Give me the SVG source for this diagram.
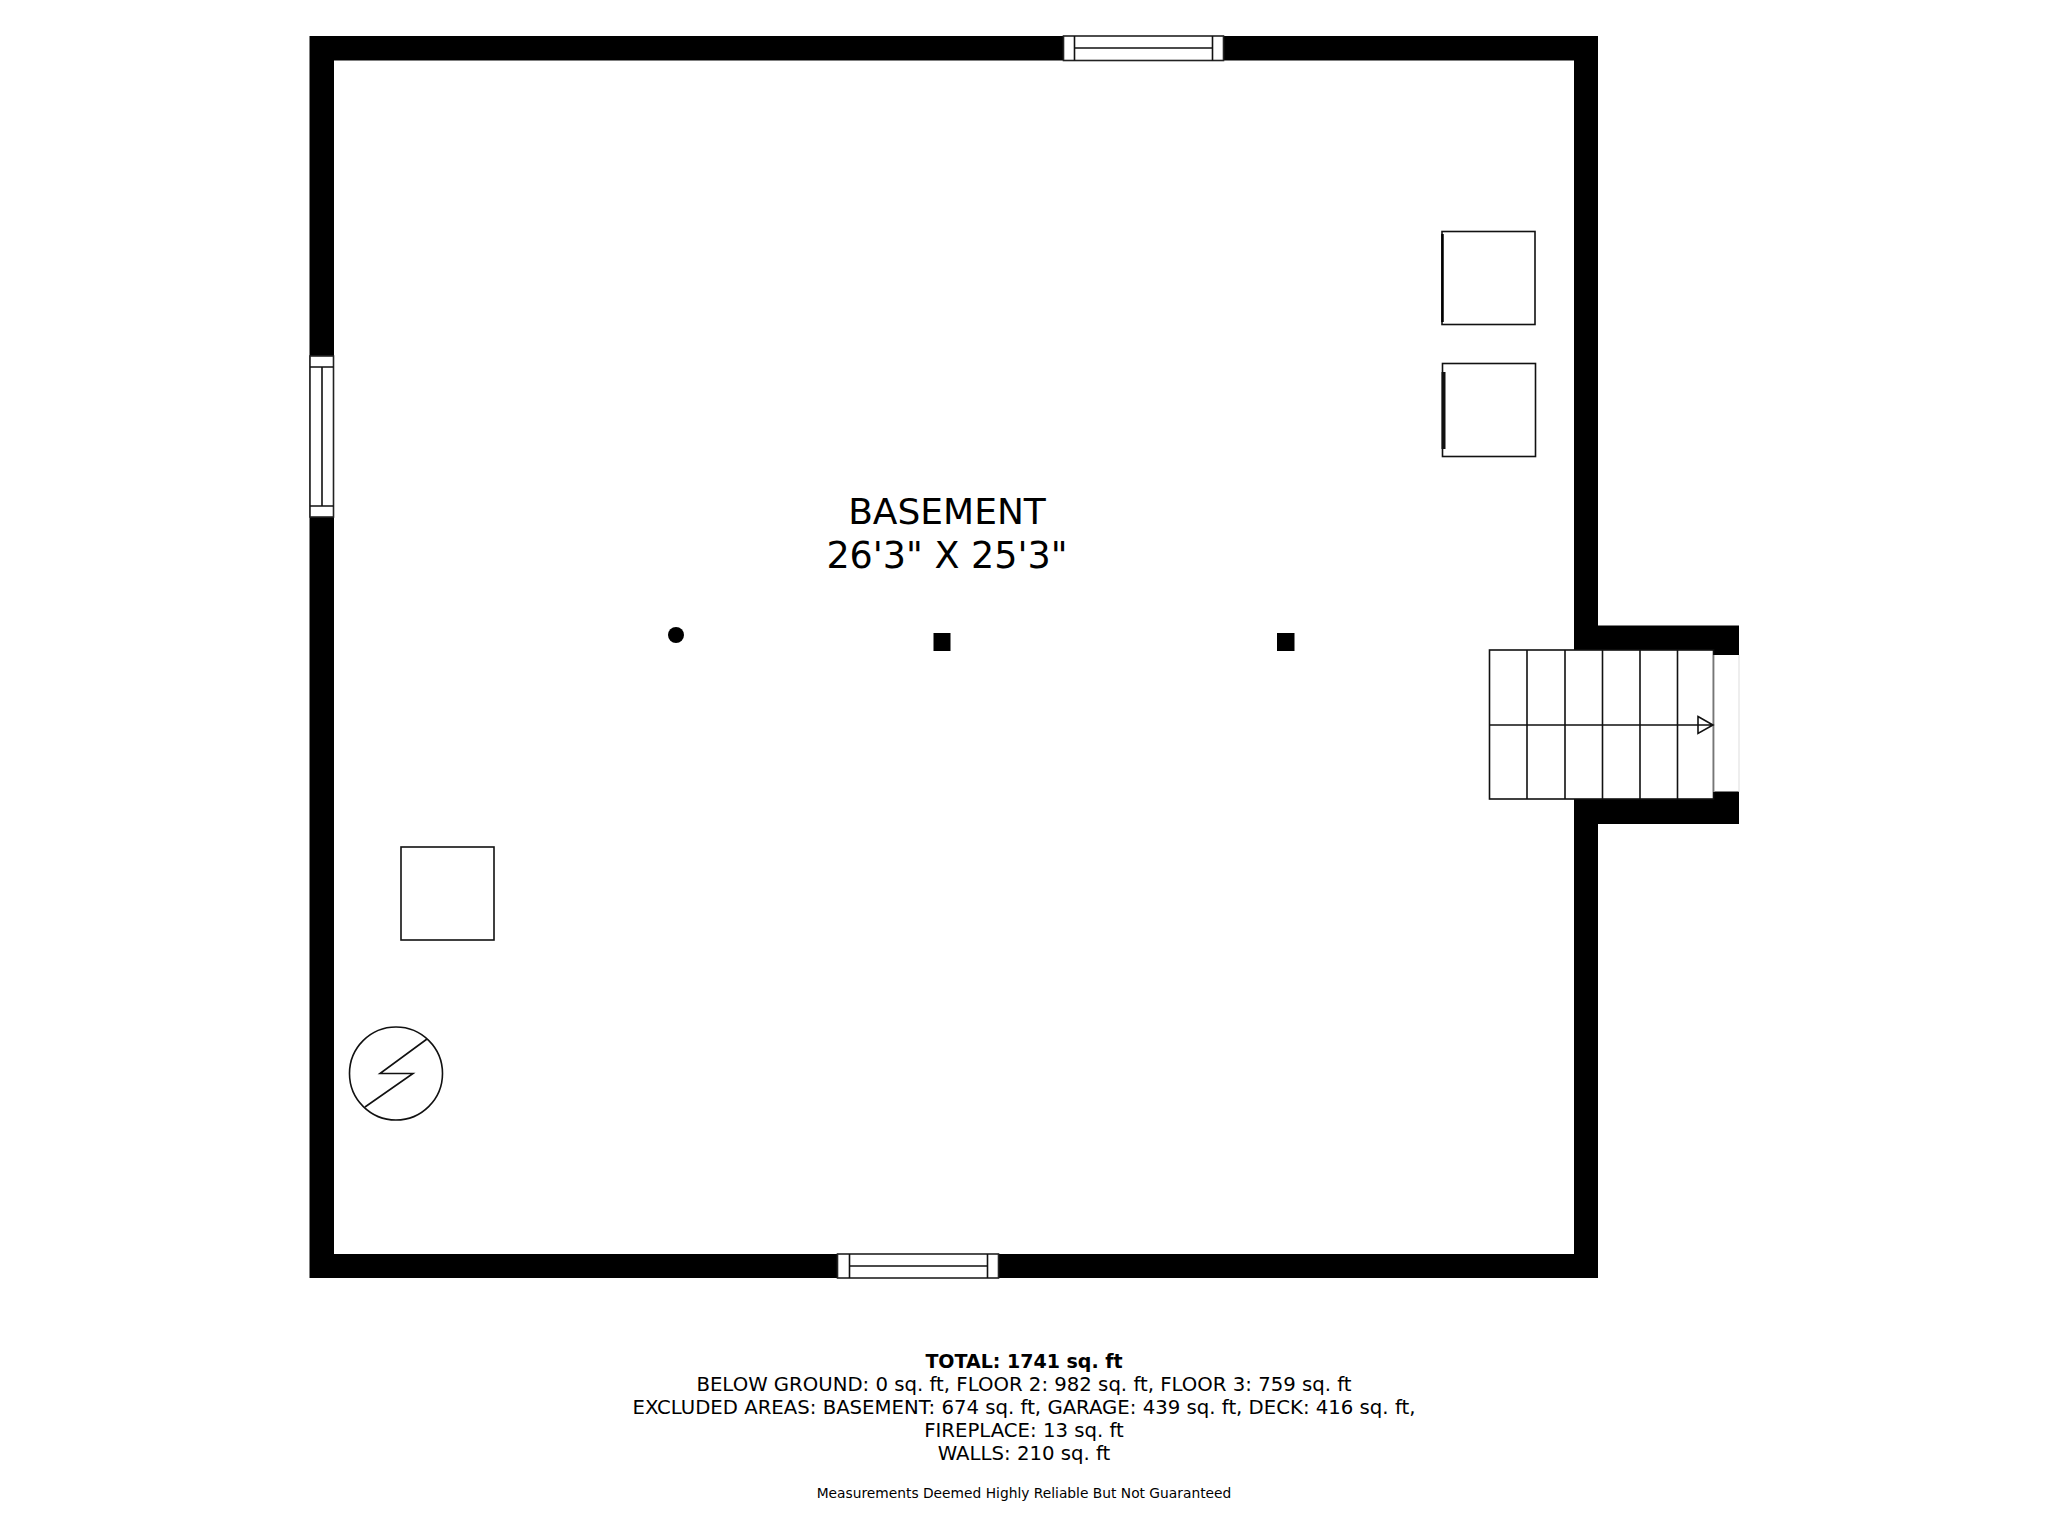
<svg xmlns="http://www.w3.org/2000/svg" width="2048" height="1536" viewBox="0 0 2048 1536">
<style>
.ln{fill:none;stroke:#111;stroke-width:1.6}
.wf{fill:#fff;stroke:#222;stroke-width:1.6}
.wall{fill:#000}
text{font-family:"DejaVu Sans",Verdana,sans-serif;fill:#000;text-anchor:middle}
.t{font-size:19.7px}
</style>
<rect width="2048" height="1536" fill="#fff"/>
<g id="walls">
<path class="wall" fill-rule="evenodd" d="M309.500 36H1598V625.500H1739V655H1714V650H1574V799H1714V791.500H1739V824H1598V1278H309.500ZM334 60.500V1254H1574V60.500Z"/>
</g>
<g id="window-top">
<rect class="wf" x="1063.500" y="36" width="160" height="24.500"/>
<path class="ln" d="M1074.500 36V60.500M1212.500 36V60.500M1074.500 48H1212.500"/>
</g>
<g id="window-left">
<rect class="wf" x="310" y="356" width="23.500" height="161"/>
<path class="ln" d="M310 367H333.500M310 506H333.500M322 367V506"/>
</g>
<g id="window-bottom">
<rect class="wf" x="837.500" y="1254" width="161" height="24"/>
<path class="ln" d="M849.500 1254V1278M987.500 1254V1278M849.500 1266H987.500"/>
</g>
<g id="appliance-1">
<rect class="ln" x="1442" y="231.500" width="93" height="93"/>
<path d="M1442.500 234V322" stroke="#000" stroke-width="2.500"/>
</g>
<g id="appliance-2">
<rect class="ln" x="1442.500" y="363.500" width="93" height="93"/>
<rect x="1441.500" y="372" width="4" height="77" fill="#111"/>
</g>
<g id="appliance-3">
<rect class="ln" x="401" y="847" width="93" height="93"/>
</g>
<g id="water-heater">
<circle class="ln" cx="396" cy="1073.500" r="46.500"/>
<path class="ln" d="M427 1039L380 1073.500H413L365 1107"/>
</g>
<g id="columns">
<circle cx="676" cy="635" r="8"/>
<rect x="933.500" y="633" width="17" height="18"/>
<rect x="1277" y="633" width="17.500" height="18"/>
</g>
<g id="stairs">
<rect class="ln" x="1489.500" y="650" width="224" height="149"/>
<path class="ln" d="M1527 650V799M1565 650V799M1602.500 650V799M1640 650V799M1677.500 650V799"/>
<path d="M1714 655V792M1739 655V792" stroke="#ddd" stroke-width="1" fill="none"/>
</g>
<g id="connectors">
<path class="ln" d="M1489.500 725H1713M1698 716.500L1713 725L1698 733.500Z"/>
</g>
<g id="labels">
<text x="947" y="524" font-size="36">BASEMENT</text>
<text x="947" y="568" font-size="36.500">26'3" X 25'3"</text>
<text x="1024" y="1368" font-size="19" font-weight="bold">TOTAL: 1741 sq. ft</text>
<text class="t" x="1024" y="1391">BELOW GROUND: 0 sq. ft, FLOOR 2: 982 sq. ft, FLOOR 3: 759 sq. ft</text>
<text class="t" x="1024" y="1414">EXCLUDED AREAS: BASEMENT: 674 sq. ft, GARAGE: 439 sq. ft, DECK: 416 sq. ft,</text>
<text class="t" x="1024" y="1437">FIREPLACE: 13 sq. ft</text>
<text class="t" x="1024" y="1460">WALLS: 210 sq. ft</text>
<text x="1024" y="1498" font-size="13.800">Measurements Deemed Highly Reliable But Not Guaranteed</text>
</g>
</svg>
